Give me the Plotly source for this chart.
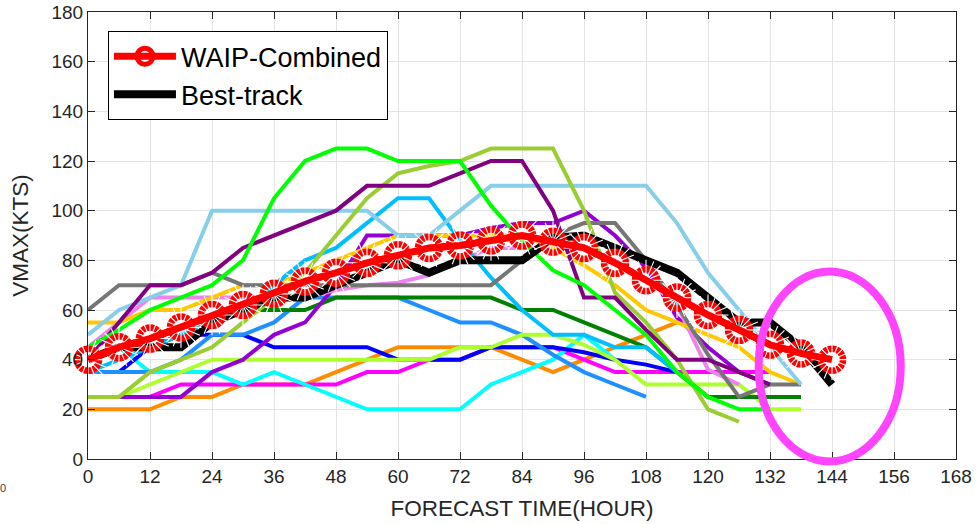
import plotly.graph_objects as go

# Forecast hours (x categories)
HOURS = [0, 6, 12, 18, 24, 30, 36, 42, 48, 54, 60, 66, 72, 78, 84, 90, 96, 102, 108, 114, 120, 126, 132, 138, 144]
X_TICKS = [0, 12, 24, 36, 48, 60, 72, 84, 96, 108, 120, 132, 144, 156, 168]
Y_TICKS = [0, 20, 40, 60, 80, 100, 120, 140, 160, 180]

# Ensemble members (kt), None = no forecast
GRAY        = [60, 70, 70, 70, 75, 70, 70, 70, 70, 70, 70, 70, 70, 70, 80, 90, 95, 95, 80, 62, 42, 25, 30, 30, None]
SKYBLUE     = [50, 60, 65, 70, 100, 100, 100, 100, 100, 100, 90, 90, 100, 110, 110, 110, 110, 110, 110, 95, 75, 60, 45, 30, None]
YELLOWGREEN = [25, 25, 35, 40, 45, 55, 65, 75, 90, 105, 115, 118, 120, 125, 125, 125, 100, 67, 55, 40, 20, 15, None, None, None]
GREENYELLOW = [25, 25, 30, 35, 40, 40, 40, 40, 40, 40, 40, 40, 45, 45, 50, 50, 46, 40, 30, 30, 30, 30, 20, 20, None]
DEEPSKYBLUE = [35, 40, 45, 50, 55, 60, 70, 80, 85, 95, 105, 105, 88, 73, 60, 50, 50, 45, 45, 35, None, None, None, None, None]
DODGERBLUE  = [35, 35, 35, 40, 50, 50, 55, 65, 65, 65, 65, 60, 55, 55, 50, 42, 35, 30, 25, None, None, None, None, None, None]
BLUE        = [35, 35, 45, 50, 50, 50, 45, 45, 45, 45, 40, 40, 40, 45, 45, 45, 43, 40, 38, 35, None, None, None, None, None]
CYAN        = [None, 45, 35, 35, 35, 30, 35, 30, 25, 20, 20, 20, 20, 30, 35, 40, 50, 40, None, None, None, None, None, None, None]
DARKGREEN   = [40, 45, 45, 50, 55, 60, 60, 60, 65, 65, 65, 65, 65, 65, 60, 60, 55, 50, 45, 35, 25, 25, 25, 25, None]
GOLD        = [55, 55, 60, 60, 65, 70, 70, 75, 80, 85, 90, 90, 90, 90, 90, 85, 78, 70, 60, 55, 50, 45, 35, 30, None]
VIOLET      = [45, 55, 65, 65, 65, 65, 65, 65, 68, 70, 71, 74, 80, 85, 85, 85, 85, 80, 72, 62, 36, 30, None, None, None]
DARKVIOLET  = [25, 25, 25, 25, 35, 40, 50, 55, 70, 90, 90, 90, 90, 93, 95, 95, 100, 90, 77, 57, 45, 35, 30, None, None]
MAGENTA     = [25, 25, 25, 30, 30, 30, 30, 30, 30, 35, 35, 40, 40, 45, 45, 45, 40, 35, 35, 35, 35, 35, 35, None, None]
ORANGE      = [20, 20, 20, 25, 25, 30, 30, 30, 35, 40, 45, 45, 45, 45, 40, 35, 40, 45, 50, 55, None, None, None, None, None]
PURPLE      = [40, 55, 70, 70, 75, 85, 90, 95, 100, 110, 110, 110, 115, 120, 120, 100, 65, 65, 52, 40, 40, 35, 30, None, None]
LIME        = [45, 52, 60, 65, 70, 80, 105, 120, 125, 125, 120, 120, 120, 102, 88, 76, 70, 60, 50, 35, 25, 20, 20, None, None]

BEST_TRACK  = [40, 45, 45, 45, 55, 60, 65, 65, 70, 75, 80, 75, 80, 80, 80, 89, 90, 85, 80, 75, 65, 55, 55, 45, 30]
WAIP        = [40, 45, 48.5, 53, 58, 62, 66.5, 71.5, 75, 79, 82, 85, 86, 88, 90, 87.5, 85, 79, 72, 65, 58, 52, 46, 42.5, 40]

# Highlight ellipse (data units)
ELLIPSE_X = [129.8, 157.3]
ELLIPSE_Y = [-1.0, 75.5]
X_RANGE = [0, 168]
Y_RANGE = [0, 180]

MEMBERS = [
    (ORANGE, "#FF8C00"), (MAGENTA, "#FF00FF"), (CYAN, "#00FFFF"), (BLUE, "#0000FF"),
    (DODGERBLUE, "#1E90FF"), (GREENYELLOW, "#ADFF2F"), (DARKGREEN, "#008000"),
    (DARKVIOLET, "#9400D3"), (VIOLET, "#EE82EE"), (GOLD, "#FFC800"),
    (DEEPSKYBLUE, "#00BFFF"), (GRAY, "#767676"), (SKYBLUE, "#87CEEB"),
    (YELLOWGREEN, "#9ACD32"), (PURPLE, "#800080"), (LIME, "#00FF00"),
]

FONT = "Liberation Sans, Arial, Helvetica, sans-serif"
AX = "#262626"

fig = go.Figure()
for vals, col in MEMBERS:
    fig.add_trace(go.Scatter(x=HOURS, y=vals, mode="lines",
                             line=dict(color=col, width=4),
                             showlegend=False, hoverinfo="skip"))

fig.add_trace(go.Scatter(x=HOURS, y=BEST_TRACK, mode="lines", name="Best-track",
                         line=dict(color="black", width=8), legendrank=2))
# WAIP: thick ring markers, cut into dashes by thin white spokes, line on top
fig.add_trace(go.Scatter(x=HOURS, y=WAIP, mode="lines+markers", name="WAIP-Combined",
                         line=dict(color="red", width=7), cliponaxis=False,
                         marker=dict(symbol="circle-open", size=22, color="red",
                                     line=dict(color="red", width=6.5)),
                         legendrank=1))
for ang in (0, 22.5):
    fig.add_trace(go.Scatter(x=HOURS, y=WAIP, mode="markers", showlegend=False,
                             hoverinfo="skip", cliponaxis=False,
                             marker=dict(symbol="asterisk-open", size=34, angle=ang,
                                         color="white", line=dict(color="white", width=1.1))))
fig.add_trace(go.Scatter(x=HOURS, y=WAIP, mode="lines", showlegend=False,
                         hoverinfo="skip", cliponaxis=False,
                         line=dict(color="red", width=7)))

def xp(v):
    return (v - X_RANGE[0]) / (X_RANGE[1] - X_RANGE[0])

def yp(v):
    return (v - Y_RANGE[0]) / (Y_RANGE[1] - Y_RANGE[0])

fig.add_shape(type="circle", xref="paper", yref="paper",
              x0=xp(ELLIPSE_X[0]), x1=xp(ELLIPSE_X[1]),
              y0=yp(ELLIPSE_Y[0]), y1=yp(ELLIPSE_Y[1]),
              line=dict(color="#FF44FF", width=8), layer="above")

fig.add_annotation(text="0", xref="paper", yref="paper", x=-0.104, y=-0.065,
                   xanchor="left", yanchor="middle", showarrow=False,
                   font=dict(family=FONT, size=11, color="#404040"))

axis_common = dict(showline=True, linecolor=AX, linewidth=1, mirror="ticks",
                   ticks="inside", ticklen=7, tickcolor=AX, tickwidth=1,
                   showgrid=True, gridcolor="#e4e4e4", gridwidth=1, zeroline=False,
                   tickfont=dict(family=FONT, size=19, color=AX))

fig.update_xaxes(range=X_RANGE, tickvals=X_TICKS,
                 title=dict(text="FORECAST TIME(HOUR)", font=dict(family=FONT, size=22.5, color=AX), standoff=14),
                 **axis_common)
fig.update_yaxes(range=Y_RANGE, tickvals=Y_TICKS,
                 title=dict(text="VMAX(KTS)", font=dict(family=FONT, size=22.5, color=AX), standoff=16),
                 **axis_common)

fig.update_layout(
    width=979, height=524,
    margin=dict(l=88, r=23, t=12, b=65, autoexpand=False),
    paper_bgcolor="white", plot_bgcolor="white",
    font=dict(family=FONT, color=AX),
    legend=dict(x=0.023, y=0.957, xanchor="left", yanchor="top",
                bgcolor="white", bordercolor="black", borderwidth=1,
                font=dict(family=FONT, size=27, color="black"),
                itemwidth=62, tracegroupgap=0),
    showlegend=True,
)

fig.write_html("out.html")
